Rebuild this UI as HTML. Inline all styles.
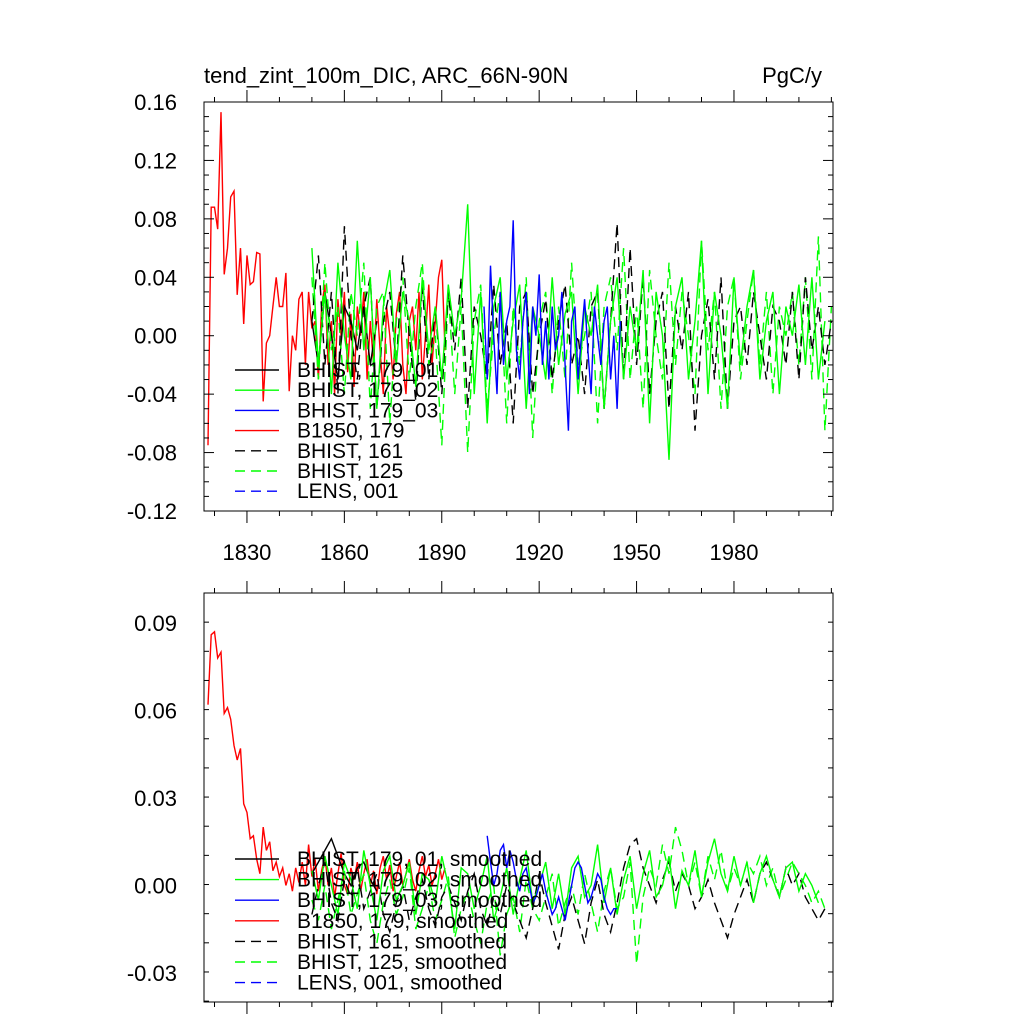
<!DOCTYPE html>
<html><head><meta charset="utf-8"><style>
body{margin:0;background:#fff;}
svg{display:block;font-family:"Liberation Sans",sans-serif;}
</style></head><body>
<svg id="c" width="1024" height="1024" xmlns="http://www.w3.org/2000/svg"></svg>
<script>
// ---------- data ----------
const xTicks=[1830,1860,1890,1920,1950,1980];
const topYTicks=[0.16,0.12,0.08,0.04,0.00,-0.04,-0.08,-0.12];
const topYLabels=["0.16","0.12","0.08","0.04","0.00","-0.04","-0.08","-0.12"];
const botYTicks=[0.09,0.06,0.03,0.00,-0.03];
const botYLabels=["0.09","0.06","0.03","0.00","-0.03"];
const legendTop=["BHIST, 179_01","BHIST, 179_02","BHIST, 179_03","B1850, 179","BHIST, 161","BHIST, 125","LENS, 001"];
const legendBot=["BHIST, 179, 01, smoothed","BHIST, 179_02, smoothed","BHIST, 179_03, smoothed","B1850, 179, smoothed","BHIST, 161, smoothed","BHIST, 125, smoothed","LENS, 001, smoothed"];

const redTopStart=1818;
const redTop=[-0.075,0.088,0.088,0.073,0.153,0.042,0.06,0.095,0.099,0.028,0.06,0.008,0.055,0.035,0.037,0.057,0.056,-0.045,-0.005,0.0,0.02,0.04,0.02,0.02,0.043,-0.038,0.0,-0.01,0.025,0.03,-0.02,0.03,0.005,0.01,-0.03,0.02,0.035,-0.02,0.01,-0.04,0.025,0.0,0.03,-0.025,0.015,-0.035,0.02,0.0,0.03,-0.03,0.01,-0.02,0.025,-0.01,-0.04,0.02,0.0,-0.03,0.015,0.03,-0.02,-0.04,0.01,0.02,-0.01,0.03,-0.03,0.0,0.035,-0.02,0.01,0.04,0.052,-0.01];
const blackSolidTopStart=1850;
const blackSolidTop=[0.01,-0.02,0.03,0.0,-0.03,0.02,0.01,-0.01,0.02,-0.02,0.01];
const greenSolidTopStart=1850;
const greenSolidTop=[0.06,-0.02,0.03,-0.04,0.05,0.0,-0.03,0.065,-0.01,0.04,-0.05,0.02,0.045,-0.02,0.03,0.01,-0.035,0.04,-0.01,0.02,-0.03,0.035,0.0,0.025,0.09,-0.04,0.03,-0.06,0.02,0.04,-0.03,0.01,0.035,-0.05,0.02,0.0,-0.03,0.04,-0.02,0.015,0.03,-0.04,0.02,0.0,0.035,-0.05,0.01,0.04,-0.03,0.02,-0.01,0.045,-0.06,0.03,0.0,-0.085,0.02,0.04,-0.03,0.01,0.065,-0.04,0.03,0.0,-0.05,0.04,-0.02,0.02,0.045,-0.03,0.01,0.03,-0.04,0.02,0.0,0.035,-0.02,0.04,-0.03,0.01];
const blueSolidTopStart=1903;
const blueSolidTop=[0.02,-0.03,0.048,0.0,-0.04,0.03,-0.02,0.01,0.02,0.079,-0.01,-0.03,0.01,0.03,-0.04,0.02,0.0,0.042,-0.02,0.01,-0.03,0.02,-0.01,0.0,0.03,-0.02,-0.065,0.01,0.02,-0.03,0.0,0.025,-0.01,-0.04,0.02,0.0,-0.02,0.01,0.02,-0.03,0.0,-0.05,0.01];
const blackDashTopStart=1850;
const blackDashTop=[0.01,0.055,-0.02,0.03,-0.04,0.075,0.0,-0.03,0.02,0.04,-0.05,0.01,0.03,-0.02,0.055,0.0,-0.045,0.035,-0.03,0.02,-0.04,0.03,-0.01,0.04,-0.05,0.02,0.0,-0.03,0.035,-0.02,0.01,-0.06,0.02,0.03,-0.04,0.0,0.025,-0.03,0.01,0.035,-0.02,0.0,-0.04,0.02,0.03,-0.05,0.01,0.077,-0.03,0.06,-0.02,0.04,-0.04,0.01,0.03,-0.05,0.02,-0.01,0.03,-0.065,0.0,0.025,-0.03,0.04,-0.05,0.01,0.02,-0.02,0.03,0.0,-0.03,0.02,0.01,-0.02,0.03,-0.03,0.04,-0.01,0.02,-0.02,0.01];
const greenDashTopStart=1850;
const greenDashTop=[0.04,-0.03,0.05,-0.01,0.02,-0.04,0.03,0.0,0.05,-0.05,0.02,0.03,-0.06,0.01,0.04,-0.03,0.02,0.05,-0.02,0.0,-0.075,0.03,-0.04,0.02,-0.08,0.01,0.035,-0.05,0.0,0.03,-0.06,0.02,-0.02,0.04,-0.07,0.01,0.03,-0.04,0.02,-0.03,0.05,-0.02,0.0,0.03,-0.06,0.02,0.04,-0.01,0.06,-0.03,0.02,-0.05,0.045,0.0,-0.03,0.05,-0.02,0.03,0.0,-0.04,0.065,-0.01,0.03,-0.05,0.02,0.04,-0.03,0.01,0.045,-0.02,0.03,-0.04,0.02,0.0,0.03,-0.02,0.04,-0.03,0.068,-0.065,0.02];

const redBotStart=1818;
const redBot=[0.062,0.086,0.087,0.078,0.080,0.059,0.061,0.057,0.048,0.043,0.047,0.028,0.025,0.016,0.017,0.009,0.004,0.020,0.012,0.015,0.005,0.008,0.003,0.006,0.0,0.004,-0.002,0.006,0.001,0.008,0.0,0.014,0.003,0.009,-0.002,0.005,0.010,0.0,0.006,-0.004,0.004,0.011,0.0,-0.003,0.006,0.002,0.008,-0.002,0.004,0.009,0.0,0.005,-0.003,0.006,0.010,0.002,0.007,-0.002,0.003,0.008,0.0,0.004,0.009,0.002,-0.002,0.005,0.010,0.003,0.007,0.0,0.004,0.009,0.002,0.006];
const blackSolidBotStart=1850;
const blackSolidBot=[0.004,0.008,0.012,0.016,0.01,0.004,0.0,0.006,0.008,0.002,-0.002];
const greenSolidBotStart=1850;
const greenSolidBot=[0.005,-0.005,0.01,0.0,-0.01,0.008,0.002,-0.008,0.012,0.0,-0.012,0.005,0.01,-0.005,0.0,0.008,-0.01,0.004,0.002,-0.006,0.01,0.0,-0.015,0.006,0.004,-0.008,0.0,0.01,-0.012,-0.004,0.006,-0.01,0.002,0.012,-0.006,0.0,0.008,-0.008,0.004,-0.01,0.006,0.01,-0.004,0.0,0.014,-0.006,0.006,-0.01,0.002,0.01,-0.008,0.004,0.012,-0.004,0.0,0.01,-0.008,0.005,0.0,0.012,-0.004,0.008,0.016,0.004,-0.002,0.01,0.0,0.008,-0.006,0.004,0.01,0.002,-0.004,0.006,0.008,-0.002,0.004,0.0,-0.006];
const blueSolidBotStart=1904;
const blueSolidBot=[0.017,0.008,0.0,0.004,0.012,0.014,0.006,0.012,0.008,0.002,-0.002,0.004,0.006,0.0,-0.006,-0.004,0.0,0.004,-0.002,-0.006,-0.01,-0.008,-0.004,-0.008,-0.012,-0.006,0.0,0.006,0.008,0.006,0.0,-0.006,-0.004,0.0,0.004,0.002,-0.004,-0.008,-0.01,-0.008,-0.008];
const blackDashBotStart=1850;
const blackDashBot=[-0.01,0.0,0.008,-0.006,-0.012,0.002,-0.004,0.006,-0.008,-0.002,0.004,-0.01,-0.016,-0.006,0.0,-0.012,-0.004,0.002,-0.008,-0.014,-0.004,0.0,-0.006,-0.012,-0.002,0.004,-0.008,-0.014,-0.004,-0.01,0.0,-0.006,-0.012,-0.018,-0.008,0.004,-0.006,-0.014,-0.022,-0.01,-0.004,-0.012,-0.02,-0.006,0.002,-0.01,-0.016,-0.006,0.006,0.014,0.016,0.006,0.0,-0.006,0.002,0.008,-0.002,0.004,0.0,-0.008,-0.004,0.002,-0.006,-0.012,-0.018,-0.01,-0.004,0.002,-0.006,0.004,0.008,0.002,-0.004,0.006,0.0,0.004,-0.004,-0.008,-0.012,-0.008];
const greenDashBotStart=1850;
const greenDashBot=[-0.005,-0.012,0.0,-0.015,-0.005,0.005,-0.01,-0.003,0.004,-0.012,-0.02,-0.006,0.002,-0.01,-0.004,0.006,-0.015,-0.008,0.0,-0.012,-0.005,0.003,-0.018,-0.008,-0.002,-0.012,-0.02,-0.006,0.0,-0.024,-0.01,-0.004,-0.016,0.002,-0.008,-0.012,-0.004,0.004,-0.014,-0.006,0.0,-0.01,0.004,-0.006,-0.016,-0.002,0.006,-0.008,-0.004,0.008,-0.027,-0.004,0.006,0.0,0.014,0.004,0.02,0.012,0.0,0.008,-0.004,0.01,0.002,0.012,-0.002,0.006,0.0,0.008,0.004,0.01,0.0,0.006,-0.004,0.002,0.008,0.004,0.0,-0.006,-0.002,-0.008];

// ---------- drawing ----------
const NS="http://www.w3.org/2000/svg";
const svg=document.getElementById('c');
function mk(tag,attrs,parent){const e=document.createElementNS(NS,tag);for(const k in attrs)e.setAttribute(k,attrs[k]);(parent||svg).appendChild(e);return e;}
const L=204,R=833,X0=1816.77,X1=2010.5;
function xs(yr){return L+(yr-X0)/(X1-X0)*(R-L);}
function makeY(top,bot,vTop,vBot){return v=>top+(vTop-v)/(vTop-vBot)*(bot-top);}

function drawPanel(name,top,bot,vTop,vBot,yt,yl,minorStep,series,legend,legY,legStep,showXLabels){
  const g=mk('g',{});
  
  
  const ys=makeY(top,bot,vTop,vBot);
  series.forEach(s=>{
    const pts=s.data.map((v,i)=>xs(s.start+i*s.step).toFixed(1)+','+ys(v).toFixed(1)).join(' ');
    const p=mk('polyline',{points:pts,fill:'none',stroke:s.color,'stroke-width':1.4,'stroke-dasharray':s.dash?'10,6':'none'},g);
    
    
  });
  const fr=mk('rect',{x:L,y:top,width:R-L,height:bot-top,fill:'none',stroke:'#000','stroke-width':1},g);
  
  
  const nMinor=Math.round((vTop-vBot)/minorStep);
  for(let i=0;i<=nMinor;i++){
    const v=vTop-i*minorStep, y=ys(v);
    const major=yt.some(t=>Math.abs(t-v)<1e-6);
    const len=major?10:5;
    mk('line',{x1:L,x2:L+len,y1:y,y2:y,stroke:'#000','stroke-width':1},g);
    mk('line',{x1:R,x2:R-len,y1:y,y2:y,stroke:'#000','stroke-width':1},g);
  }
  yt.forEach((t,i)=>{
    const tx=mk('text',{x:177,y:ys(t)+8,'text-anchor':'end','font-size':22},g);
    tx.textContent=yl[i];
    
    
  });
  for(let yr=1820;yr<=2010;yr+=10){
    const x=xs(yr);
    const major=xTicks.includes(yr);
    const len=major?12:5;
    mk('line',{x1:x,x2:x,y1:bot,y2:bot+len,stroke:'#000','stroke-width':1},g);
    mk('line',{x1:x,x2:x,y1:top,y2:top-len,stroke:'#000','stroke-width':1},g);
  }
  if(showXLabels){
    xTicks.forEach(t=>{
      const tx=mk('text',{x:xs(t),y:560,'text-anchor':'middle','font-size':22},g);
      tx.textContent=t;
      
      
    });
  }
  const cols=['#000','#00ff00','#0000ff','#ff0000','#000','#00ff00','#0000ff'];
  const dashes=[0,0,0,0,1,1,1];
  legend.forEach((lab,i)=>{
    const y=legY+i*legStep;
    const ln=mk('line',{x1:235,x2:279,y1:y,y2:y,stroke:cols[i],'stroke-width':1.4,'stroke-dasharray':dashes[i]?'10,6':'none'},g);
    
    
    const tx=mk('text',{x:297,y:y+7,'font-size':21},g);
    tx.textContent=lab;
    
    
  });
}

drawPanel('top-panel',102,511,0.16,-0.12,topYTicks,topYLabels,0.01,[
  {name:'b1850-179',color:'#ff0000',data:redTop,start:redTopStart,step:1},
  {name:'bhist-179-01',color:'#000',data:blackSolidTop,start:blackSolidTopStart,step:2},
  {name:'bhist-125',color:'#00ff00',dash:1,data:greenDashTop,start:greenDashTopStart,step:2},
  {name:'bhist-161',color:'#000',dash:1,data:blackDashTop,start:blackDashTopStart,step:2},
  {name:'bhist-179-02',color:'#00ff00',data:greenSolidTop,start:greenSolidTopStart,step:2},
  {name:'bhist-179-03',color:'#0000ff',data:blueSolidTop,start:blueSolidTopStart,step:1}
],legendTop,370,20.2,true);

drawPanel('bottom-panel',593,1002,0.1003,-0.04,botYTicks,botYLabels,0.01,[
  {name:'b1850-179-smoothed',color:'#ff0000',data:redBot,start:redBotStart,step:1},
  {name:'bhist-179-01-smoothed',color:'#000',data:blackSolidBot,start:blackSolidBotStart,step:2},
  {name:'bhist-125-smoothed',color:'#00ff00',dash:1,data:greenDashBot,start:greenDashBotStart,step:2},
  {name:'bhist-161-smoothed',color:'#000',dash:1,data:blackDashBot,start:blackDashBotStart,step:2},
  {name:'bhist-179-02-smoothed',color:'#00ff00',data:greenSolidBot,start:greenSolidBotStart,step:2},
  {name:'bhist-179-03-smoothed',color:'#0000ff',data:blueSolidBot,start:blueSolidBotStart,step:1}
],legendBot,859,20.6,false);

const t1=mk('text',{x:204,y:83,'font-size':22});
t1.textContent='tend_zint_100m_DIC, ARC_66N-90N';


const t2=mk('text',{x:822,y:83,'font-size':22,'text-anchor':'end'});
t2.textContent='PgC/y';


</script>
</body></html>
